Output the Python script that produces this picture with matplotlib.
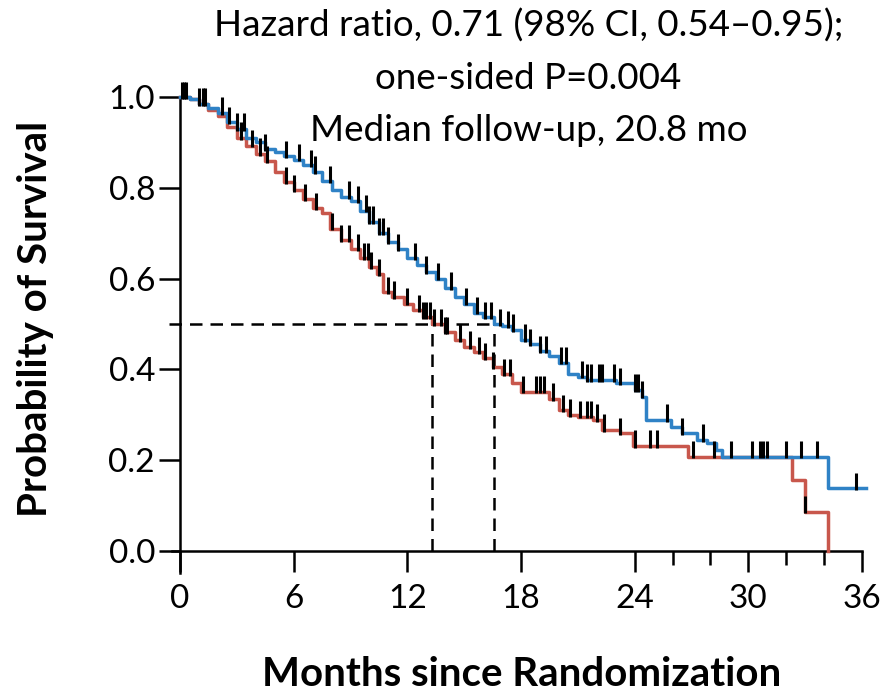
import numpy as np
import matplotlib.pyplot as plt

plt.rcParams['font.family'] = ['Lato', 'DejaVu Sans']

# Kaplan-Meier estimates (time in months, survival probability)
exp_t = [0, 0.5, 1.0, 1.5, 2.0, 2.5, 3.0, 3.5, 4.0, 4.5, 5.0, 5.5, 6.0, 6.5, 7.0,
         7.5, 8.0, 8.5, 9.0, 9.5, 10.0, 10.5, 11.0, 11.5, 12.0, 12.5, 13.0, 13.5,
         14.0, 14.5, 15.0, 15.5, 16.0, 16.6, 17.0, 17.5, 18.0, 18.5, 19.0, 19.5,
         20.0, 20.5, 21.0, 21.5, 23.0, 24.0, 24.4, 24.6, 25.9, 26.5, 27.3, 27.8,
         28.3, 28.6, 34.2, 36.2]
exp_s = [1.0, 0.995, 0.985, 0.975, 0.965, 0.945, 0.93, 0.91, 0.90, 0.885, 0.878,
         0.87, 0.862, 0.85, 0.835, 0.815, 0.795, 0.78, 0.77, 0.75, 0.725, 0.70,
         0.68, 0.665, 0.645, 0.63, 0.615, 0.60, 0.58, 0.56, 0.545, 0.525, 0.515,
         0.50, 0.495, 0.487, 0.465, 0.455, 0.44, 0.43, 0.415, 0.39, 0.384, 0.377,
         0.369, 0.355, 0.34, 0.289, 0.274, 0.259, 0.245, 0.237, 0.222, 0.208,
         0.138, 0.138]

ctl_t = [0, 0.5, 1.0, 1.5, 2.0, 2.5, 3.0, 3.5, 4.0, 4.5, 5.0, 5.5, 6.0, 6.5, 7.0,
         7.5, 7.9, 8.5, 9.0, 9.5, 10.0, 10.4, 10.7, 11.2, 11.8, 12.3, 12.8, 13.3,
         14.0, 14.5, 15.0, 15.5, 16.0, 16.5, 17.0, 17.5, 18.0, 19.5, 20.0, 20.5,
         21.0, 21.8, 22.3, 23.2, 23.9, 26.8, 32.3, 33.0, 34.2]
ctl_s = [1.0, 0.995, 0.985, 0.972, 0.958, 0.935, 0.91, 0.893, 0.875, 0.858,
         0.835, 0.812, 0.795, 0.775, 0.755, 0.745, 0.71, 0.685, 0.665, 0.645,
         0.625, 0.61, 0.57, 0.56, 0.545, 0.53, 0.515, 0.50, 0.482, 0.465, 0.45,
         0.438, 0.425, 0.405, 0.39, 0.37, 0.351, 0.335, 0.31, 0.30, 0.296, 0.289,
         0.267, 0.259, 0.232, 0.208, 0.156, 0.087, 0.0]

# censored observations
exp_cens = [0.1, 0.3, 1.2, 1.3, 2.2, 2.6, 3.0, 3.4, 4.5, 5.6, 6.3, 6.9, 7.1, 7.9,
            8.9, 9.4, 9.8, 10.0, 10.2, 10.5, 10.7, 11.0, 11.5, 12.4, 13.0, 13.6,
            14.3, 15.1, 15.7, 16.1, 16.4, 16.9, 17.3, 17.6, 18.2, 18.5, 19.0,
            19.3, 20.1, 20.4, 21.2, 21.5, 21.7, 22.1, 22.3, 22.9, 23.2, 24.0,
            24.2, 24.4, 25.7, 26.5, 27.6, 29.1, 30.2, 30.6, 30.8, 31.0, 32.0,
            32.8, 33.6, 35.7]
ctl_cens = [0.2, 1.0, 3.2, 3.8, 4.2, 4.6, 5.6, 6.0, 6.6, 7.2, 8.0, 8.5, 8.9, 9.4,
            9.7, 9.9, 10.1, 10.5, 11.0, 11.3, 12.0, 12.6, 12.8, 13.0, 13.2, 13.4,
            13.8, 14.0, 14.1, 14.8, 15.3, 15.8, 16.1, 16.5, 17.1, 17.4, 18.1,
            18.8, 19.0, 19.2, 19.7, 20.2, 20.6, 21.1, 21.5, 21.7, 22.0, 22.4,
            23.2, 24.0, 24.8, 25.2, 27.1, 28.2, 33.0]

median_exp = 16.6
median_ctl = 13.3

BLUE = '#2f82c6'
RED = '#c8574c'


def level(times, surv, t):
    idx = np.searchsorted(times, t, side='right') - 1
    return np.asarray(surv)[idx]


fig = plt.figure(figsize=(8.81, 7.0), dpi=100)
ax = fig.add_axes([0.1947, 0.1817, 0.7837, 0.6797])

ax.step(ctl_t, ctl_s, where='post', color=RED, lw=2.5, clip_on=False, zorder=3)
ax.step(exp_t, exp_s, where='post', color=BLUE, lw=2.5, clip_on=False, zorder=3)

for ct, t_arr, s_arr in [(exp_cens, exp_t, exp_s), (ctl_cens, ctl_t, ctl_s)]:
    y = level(t_arr, s_arr, np.array(ct))
    ax.vlines(ct, y - 0.004, y + 0.034, color='black', lw=2.2, zorder=4, clip_on=False)

# medians
dash = dict(color='black', lw=1.8, dashes=(5, 3.2), zorder=2, clip_on=False)
ax.plot([-0.6, median_exp], [0.5, 0.5], **dash)
ax.plot([median_ctl, median_ctl], [0, 0.5], **dash)
ax.plot([median_exp, median_exp], [0, 0.5], **dash)

ax.set_xlim(-0.45, 36)
ax.set_ylim(-0.048, 1.0)
ax.spines['left'].set_position(('data', 0))
ax.spines['bottom'].set_position(('data', 0))
ax.spines['top'].set_visible(False)
ax.spines['right'].set_visible(False)
for s in ('left', 'bottom'):
    ax.spines[s].set_linewidth(1.8)
    ax.spines[s].set_bounds(ax.get_xlim() if s == 'bottom' else ax.get_ylim())

ax.set_xticks(np.arange(0, 37, 6))
ax.set_xticks([26, 28, 32, 34], minor=True)
ax.set_yticks(np.arange(0, 1.01, 0.2))
ax.set_yticklabels(['0.0', '0.2', '0.4', '0.6', '0.8', '1.0'])
ax.tick_params(axis='both', which='major', direction='out', length=15, width=1.8,
               labelsize=24, colors='black')
ax.tick_params(axis='x', which='major', pad=9)
ax.tick_params(axis='y', which='major', pad=3)
ax.tick_params(axis='x', which='minor', direction='out', length=10, width=1.8)
ax.tick_params(axis='y', which='minor', length=0)

fig.text(0.600, 0.988,
         'Hazard ratio, 0.71 (98% CI, 0.54\u20130.95);\none-sided P=0.004\nMedian follow-up, 20.8 mo',
         ha='center', va='top', fontsize=26.5, linespacing=1.72)
fig.text(0.040, 0.545, 'Probability of Survival', rotation=90, ha='center',
         va='center', fontsize=29, fontweight='bold')
fig.text(0.592, 0.036, 'Months since Randomization', ha='center', va='center',
         fontsize=29, fontweight='bold')

fig.savefig('out.png', dpi=100)
